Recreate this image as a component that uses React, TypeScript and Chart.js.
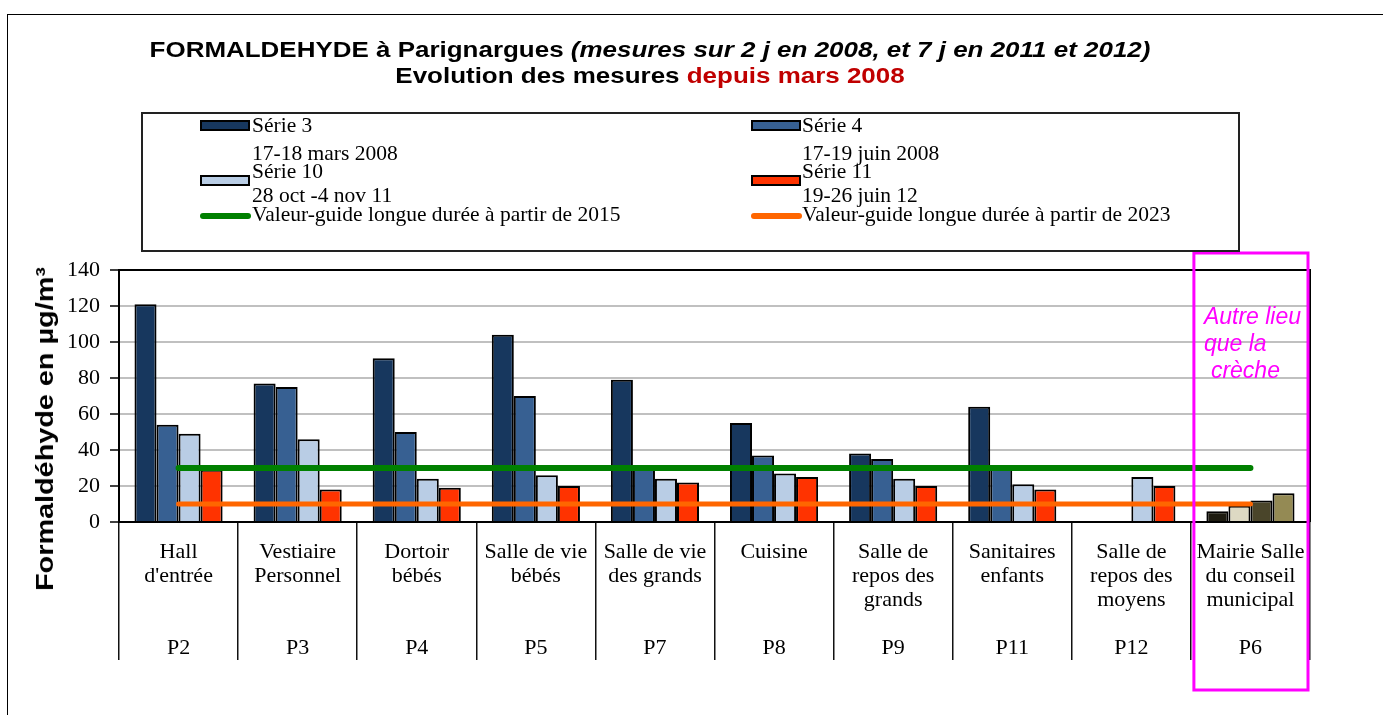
import React, { useEffect, useRef } from 'react';
import { Chart, registerables } from 'chart.js';

Chart.register(...registerables);

// ---------- data ----------
const roomNames: string[][] = [
  ['Hall', "d'entrée"],
  ['Vestiaire', 'Personnel'],
  ['Dortoir', 'bébés'],
  ['Salle de vie', 'bébés'],
  ['Salle de vie', 'des grands'],
  ['Cuisine'],
  ['Salle de', 'repos des', 'grands'],
  ['Sanitaires', 'enfants'],
  ['Salle de', 'repos des', 'moyens'],
  ['Mairie Salle', 'du conseil', 'municipal'],
];
const pointCodes = ['P2', 'P3', 'P4', 'P5', 'P7', 'P8', 'P9', 'P11', 'P12', 'P6'];

const serie3 = [121, 77, 91, 104, 79, 55, 38, 64, null, 6];
const serie4 = [54, 75, 50, 70, 30, 37, 35, 30, null, 9];
const serie10 = [49, 46, 24, 26, 24, 27, 24, 21, 25, 12];
const serie11 = [29, 18, 19, 20, 22, 25, 20, 18, 20, 16];

const guide2015 = [30, 30, 30, 30, 30, 30, 30, 30, 30, 30];
const guide2023 = [10, 10, 10, 10, 10, 10, 10, 10, 10, 10];

const seriesNames = ['Série 3', 'Série 4', 'Série 10', 'Série 11'];
const seriesDates = ['17-18 mars 2008', '17-19 juin 2008', '28 oct -4 nov 11', '19-26 juin 12'];
const seriesColors = ['#17375e', '#376092', '#b9cde5', '#ff3300'];
const otherPlaceColors = ['#1d1b10', '#ddd9c3', '#4a452a', '#948a54'];
const guideNames = ['Valeur-guide longue durée à partir de 2015', 'Valeur-guide longue durée à partir de 2023'];
const guideColors = ['#008000', '#ff6600'];

const yTickValues = [0, 20, 40, 60, 80, 100, 120, 140];

const SERIF = "'Liberation Serif', 'Times New Roman', serif";
const SANS = "'Liberation Sans', Arial, sans-serif";

const notePlugin = {
  id: 'noteAndFrame',
  afterDraw(chart: any) {
    const { ctx, chartArea: a, scales } = chart;
    const x = scales.x;
    const y = scales.y;
    ctx.save();
    // plot area border (top + right)
    ctx.strokeStyle = '#000';
    ctx.lineWidth = 2;
    ctx.beginPath();
    ctx.moveTo(a.left, a.top);
    ctx.lineTo(a.right, a.top);
    ctx.lineTo(a.right, a.bottom);
    ctx.stroke();
    // pink box around last category
    const last = pointCodes.length - 1;
    const c = x.getPixelForValue(last);
    const half = (x.getPixelForValue(last) - x.getPixelForValue(last - 1)) / 2;
    const left = c - half + 3;
    const right = c + half - 2;
    const top = y.getPixelForValue(yTickValues[yTickValues.length - 1]) - 17;
    const bottom = a.bottom + 168;
    ctx.strokeStyle = '#ff00ff';
    ctx.lineWidth = 3;
    ctx.strokeRect(left, top, right - left, bottom - top);
    ctx.fillStyle = '#ff00ff';
    ctx.font = `italic 23px ${SANS}`;
    ctx.textBaseline = 'alphabetic';
    ctx.textAlign = 'left';
    ctx.fillText('Autre lieu', left + 10, a.top + 54);
    ctx.fillText('que la', left + 10, a.top + 81);
    ctx.fillText('crèche', left + 17, a.top + 108);
    ctx.restore();
  },
};

function pointColors(base: string, other: string) {
  return pointCodes.map((_, i) => (i === pointCodes.length - 1 ? other : base));
}

export default function App() {
  const ref = useRef<HTMLCanvasElement | null>(null);

  useEffect(() => {
    if (!ref.current) return;
    const labels = roomNames.map((n, i) => {
      const lines = [...n];
      while (lines.length < 4) lines.push('');
      lines.push(pointCodes[i]);
      return lines;
    });
    const barSeries = [serie3, serie4, serie10, serie11];
    const datasets: any[] = [
      {
        type: 'line',
        label: guideNames[0],
        data: guide2015,
        borderColor: guideColors[0],
        backgroundColor: guideColors[0],
        borderWidth: 6,
        borderCapStyle: 'round',
        pointRadius: 0,
        fill: false,
        order: 0,
      },
      {
        type: 'line',
        label: guideNames[1],
        data: guide2023,
        borderColor: guideColors[1],
        backgroundColor: guideColors[1],
        borderWidth: 5,
        borderCapStyle: 'round',
        pointRadius: 0,
        fill: false,
        order: 0,
      },
      ...barSeries.map((d, i) => ({
        type: 'bar',
        label: seriesNames[i],
        data: d,
        backgroundColor: pointColors(seriesColors[i], otherPlaceColors[i]),
        borderColor: '#000',
        borderWidth: 2,
        categoryPercentage: 0.74,
        barPercentage: 1.0,
        order: 1,
      })),
    ];

    const chart = new Chart(ref.current, {
      type: 'bar',
      data: { labels, datasets },
      options: {
        animation: false,
        responsive: false,
        devicePixelRatio: 1,
        layout: { padding: { left: 0, top: 270, right: 73, bottom: 55 } },
        plugins: {
          legend: { display: false },
          tooltip: { enabled: false },
          title: { display: false },
        },
        scales: {
          x: {
            offset: true,
            grid: {
              offset: true,
              drawOnChartArea: false,
              color: '#111',
              lineWidth: 1.5,
              tickLength: 138,
              tickColor: '#111',
              tickWidth: 1.5,
            },
            border: { display: true, color: '#000', width: 2 },
            ticks: {
              autoSkip: false,
              maxRotation: 0,
              minRotation: 0,
              padding: -120,
              color: '#000',
              font: { family: SERIF, size: 22, lineHeight: 24 / 22 },
            },
            afterFit(s: any) {
              s.height = 138;
            },
          },
          y: {
            min: 0,
            max: 140,
            afterBuildTicks(s: any) {
              s.ticks = yTickValues.map((v) => ({ value: v }));
            },
            ticks: {
              stepSize: 20,
              padding: 10,
              color: '#000',
              font: { family: SERIF, size: 22 },
            },
            grid: {
              color: '#c0c0c0',
              lineWidth: 2,
              tickLength: 9,
              tickColor: '#000',
              tickWidth: 1.5,
            },
            border: { display: true, color: '#000', width: 2 },
            afterFit(s: any) {
              s.width = 119;
            },
          },
        },
      } as any,
      plugins: [notePlugin],
    });
    return () => chart.destroy();
  }, []);

  const legendText: React.CSSProperties = {
    position: 'absolute',
    font: `21.5px ${SERIF}`,
    lineHeight: '21.5px',
    whiteSpace: 'nowrap',
    color: '#000',
  };
  const colX = [[200, 252], [751, 802]];
  const rowTops = [[115, 142.7], [161.3, 184.7]];
  const swatchTops = [120, 175];

  return (
    <div
      style={{
        position: 'fixed',
        left: 0,
        top: 0,
        width: 1383,
        height: 715,
        overflow: 'hidden',
        background: '#fff',
      }}
    >
      <div
        style={{
          position: 'absolute',
          left: 7,
          top: 14,
          width: 1420,
          height: 800,
          border: '1px solid #000',
        }}
      />
      <canvas
        ref={ref}
        width={1383}
        height={715}
        style={{ position: 'absolute', left: 0, top: 0, width: 1383, height: 715 }}
      />
      {/* title */}
      <div
        style={{
          position: 'absolute',
          left: 650,
          top: 39.4,
          transform: 'translateX(-50%) scaleX(1.18)',
          whiteSpace: 'nowrap',
          font: `bold 22px ${SANS}`,
          lineHeight: '22px',
          color: '#000',
        }}
      >
        FORMALDEHYDE à Parignargues <i>(mesures sur 2 j en 2008, et 7 j en 2011 et 2012)</i>
      </div>
      <div
        style={{
          position: 'absolute',
          left: 650,
          top: 65.4,
          transform: 'translateX(-50%) scaleX(1.18)',
          whiteSpace: 'nowrap',
          font: `bold 22px ${SANS}`,
          lineHeight: '22px',
          color: '#000',
        }}
      >
        Evolution des mesures <span style={{ color: '#c00000' }}>depuis mars 2008</span>
      </div>
      {/* y axis title */}
      <div
        style={{
          position: 'absolute',
          left: 45,
          top: 429,
          transform: 'translate(-50%,-50%) rotate(-90deg) scaleX(1.2)',
          whiteSpace: 'nowrap',
          font: `bold 24px ${SANS}`,
          lineHeight: '28px',
          color: '#000',
        }}
      >
        Formaldéhyde en µg/m³
      </div>
      {/* legend */}
      <div
        style={{
          position: 'absolute',
          left: 141,
          top: 112,
          width: 1099,
          height: 140,
          border: '2px solid #222',
          boxSizing: 'border-box',
        }}
      />
      {seriesNames.map((name, i) => {
        const col = i % 2;
        const row = Math.floor(i / 2);
        return (
          <React.Fragment key={name}>
            <div
              style={{
                position: 'absolute',
                left: colX[col][0],
                top: swatchTops[row],
                width: 50,
                height: 11,
                background: seriesColors[i],
                border: '2px solid #000',
                boxSizing: 'border-box',
              }}
            />
            <div style={{ ...legendText, left: colX[col][1], top: rowTops[row][0] }}>{name}</div>
            <div style={{ ...legendText, left: colX[col][1], top: rowTops[row][1] }}>{seriesDates[i]}</div>
          </React.Fragment>
        );
      })}
      {guideNames.map((name, i) => (
        <React.Fragment key={name}>
          <div
            style={{
              position: 'absolute',
              left: colX[i][0],
              top: 213,
              width: 51,
              height: 6,
              borderRadius: 3,
              background: guideColors[i],
            }}
          />
          <div style={{ ...legendText, left: colX[i][1], top: 203.7 }}>{name}</div>
        </React.Fragment>
      ))}
    </div>
  );
}
